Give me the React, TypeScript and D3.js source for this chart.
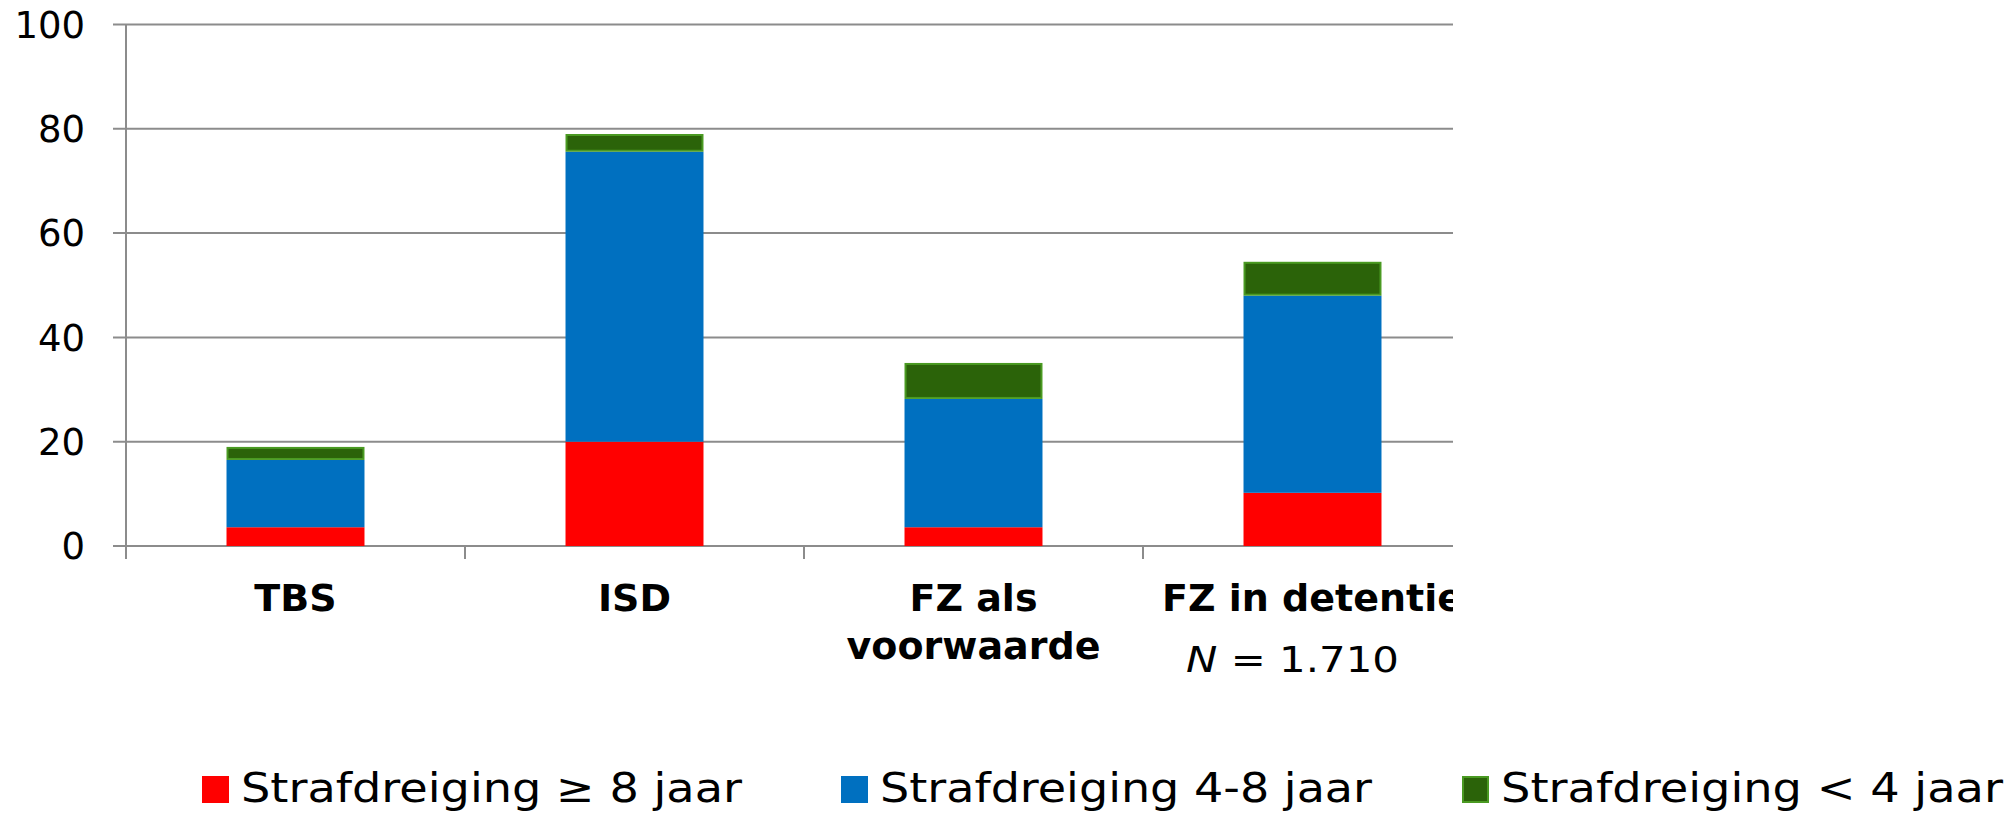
import React from "react";
import * as d3 from "d3";

const categories = ["TBS", "ISD", "FZ als voorwaarde", "FZ in detentie"];
const categoryLines = [["TBS"], ["ISD"], ["FZ als", "voorwaarde"], ["FZ in detentie"]];
const seriesNames = ["Strafdreiging ≥ 8 jaar", "Strafdreiging 4-8 jaar", "Strafdreiging < 4 jaar"];
const high = [3.6, 20.0, 3.6, 10.2];
const mid = [12.9, 55.6, 24.6, 37.8];
const low = [2.5, 3.4, 6.9, 6.5];
const yTicks = [0, 20, 40, 60, 80, 100];
const note = "= 1.710";

const colors = ["#FF0000", "#0070C0", "#2B6309"];
const strokes = ["none", "none", "#4A9A22"];

export default function App() {
  const W = 2011, H = 814;
  const left = 126, step = 339, plotRight = 1453;
  const y = d3.scaleLinear().domain([0, 100]).range([546, 24.5]);
  const x = d3
    .scaleBand<string>()
    .domain(categories)
    .range([left, left + step * categories.length])
    .paddingInner(0.593)
    .paddingOuter(0.2965);

  const rows = categories.map((c, i) => ({ cat: c, s0: high[i], s1: mid[i], s2: low[i] }));
  const stack = d3.stack<any>().keys(["s0", "s1", "s2"]);
  const layers = stack(rows);

  const grid = "#8C8C8C";
  const font = "'DejaVu Sans', Verdana, sans-serif";
  const legendX = [202, 841, 1462];
  const legendTextLen = [501, 492, 502];

  return (
    <svg width={W} height={H} style={{ position: "absolute", left: 0, top: 0, background: "#fff" }} fontFamily={font}>
      <defs>
        <clipPath id="plotclip">
          <rect x={0} y={0} width={plotRight} height={720} />
        </clipPath>
      </defs>
      <g clipPath="url(#plotclip)">
        {yTicks.map((t) => (
          <g key={t}>
            <line x1={113} x2={plotRight} y1={y(t)} y2={y(t)} stroke={grid} strokeWidth={2} />
            <text x={85} y={y(t)} dy="0.36em" textAnchor="end" fontSize={37} fill="#000">
              {t}
            </text>
          </g>
        ))}
        <line x1={left} x2={left} y1={y(100)} y2={559} stroke={grid} strokeWidth={2} />
        {d3.range(1, categories.length + 1).map((i) => (
          <line key={i} x1={left + i * step} x2={left + i * step} y1={y(0)} y2={559} stroke={grid} strokeWidth={2} />
        ))}
        {layers.map((layer, li) => (
          <g key={li}>
            {layer.map((d, di) => {
              const x0 = x(categories[di])!;
              const w = x.bandwidth();
              const yt = y(d[1]);
              const yb = y(d[0]);
              const sw = strokes[li] === "none" ? 0 : 2;
              return (
                <rect
                  key={di}
                  x={x0 + sw / 2}
                  y={yt + sw / 2}
                  width={w - sw}
                  height={Math.max(0, yb - yt - sw)}
                  fill={colors[li]}
                  stroke={strokes[li]}
                  strokeWidth={sw}
                />
              );
            })}
          </g>
        ))}
        {categoryLines.map((lines, i) => (
          <text
            key={i}
            x={x(categories[i])! + x.bandwidth() / 2}
            y={611}
            textAnchor="middle"
            fontSize={38}
            fontWeight="bold"
            fill="#000"
          >
            {lines.map((l, j) => (
              <tspan key={j} x={x(categories[i])! + x.bandwidth() / 2} dy={j === 0 ? 0 : 47.5}>
                {l}
              </tspan>
            ))}
          </text>
        ))}
        <text x={1186} y={672} fontSize={36} fill="#000" textLength={213} lengthAdjust="spacingAndGlyphs">
          <tspan fontStyle="italic">N</tspan>
          <tspan> {note}</tspan>
        </text>
      </g>
      {seriesNames.map((s, i) => (
        <g key={s}>
          <rect
            x={legendX[i] + (i === 2 ? 1 : 0)}
            y={776 + (i === 2 ? 1 : 0)}
            width={27 - (i === 2 ? 2 : 0)}
            height={27 - (i === 2 ? 2 : 0)}
            fill={colors[i]}
            stroke={strokes[i]}
            strokeWidth={i === 2 ? 2 : 0}
          />
          <text
            x={legendX[i] + 39}
            y={802}
            fontSize={40}
            fill="#000"
            textLength={legendTextLen[i]}
            lengthAdjust="spacingAndGlyphs"
          >
            {s}
          </text>
        </g>
      ))}
    </svg>
  );
}
